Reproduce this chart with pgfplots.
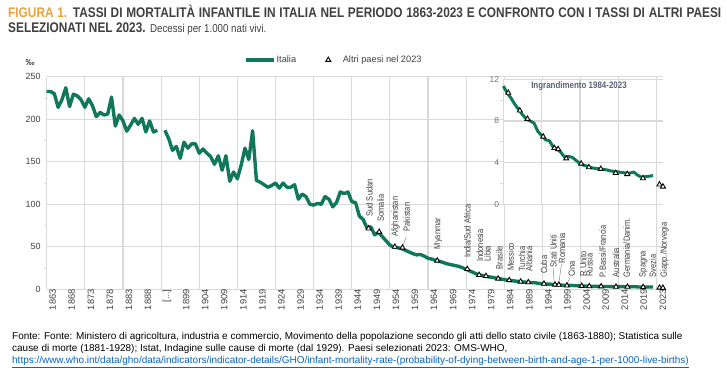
\documentclass[border=0pt]{standalone}
\usepackage{pgfplots}
\pgfplotsset{compat=1.18}
\usepackage{fontspec}
\setmainfont{Liberation Sans}
\newfontfamily\narrow[FakeStretch=0.84]{Liberation Sans}
\newfontfamily\titlefont[FakeStretch=0.85]{Liberation Sans}
\definecolor{itgreen}{HTML}{10785A}
\definecolor{gridc}{HTML}{D9D9D9}
\definecolor{txt}{HTML}{404040}
\definecolor{orangeT}{HTML}{E8A33C}
\definecolor{insetT}{HTML}{5B6475}
\definecolor{linkc}{HTML}{0563C1}
\definecolor{leader}{HTML}{8C8C8C}
\pgfplotsset{
  mytrilegend/.style={legend image code/.code={\path[draw=none,fill=none] (0bp,0bp) (22bp,0bp); \draw[mark repeat=2,mark phase=2,##1] plot coordinates {(0bp,0bp)(8.5bp,0bp)(22bp,0bp)};}},
  mylinelegend/.style={legend image code/.code={\draw[##1] (0bp,0bp) -- (28bp,0bp);}},
}
\begin{document}
\begin{tikzpicture}[x=1bp,y=1bp]
\path[use as bounding box] (0,0) rectangle (727,-372);
% ---- title
\node[anchor=base west, inner sep=0, text=txt, font=\titlefont\fontsize{14}{15}\selectfont\bfseries] at (8,-17.5)
 {\makebox[713bp][s]{\textcolor{orangeT}{FIGURA 1.} TASSI DI MORTALITÀ INFANTILE IN ITALIA NEL PERIODO 1863-2023 E CONFRONTO CON I TASSI DI ALTRI PAESI}};
\node[anchor=base west, inner sep=0, text=txt, font=\titlefont\fontsize{14}{15}\selectfont] at (8,-32.5)
 {\textbf{SELEZIONATI NEL 2023.} {\fontsize{11.5}{12}\selectfont Decessi per 1.000 nati vivi.}};
% ---- per mille
\node[text=txt, font=\fontsize{9}{10}\selectfont\bfseries, inner sep=0] at (30,-62) {‰};
% ---- main axis
\begin{axis}[
  at={(46.7bp,-289.3bp)}, anchor=south west, scale only axis,
  width=616.6bp, height=212.6bp,
  xmin=0, xmax=161.7, ymin=0, ymax=250,
  clip=false,
  axis x line*=bottom, axis y line*=left,
  axis line style={draw=gridc, line width=1.2bp},
  xtick={0,5,...,155,160},
  xticklabels={1863,1868,1873,1878,1883,1888,{[.\kern0pt.\kern0pt.]},1899,1904,1909,1914,1919,1924,1929,1934,1939,1944,1949,1954,1959,1964,1969,1974,1979,1984,1989,1994,1999,2004,2009,2014,2019,2023},
  x tick label style={rotate=90, anchor=east, font=\fontsize{9.3}{10}\selectfont, text=txt, inner sep=0pt, yshift=-6bp},
  extra x ticks={10,20,...,160}, extra x tick labels={},
  extra x tick style={xmajorgrids=true},
  ytick={0,50,...,250}, minor ytick={25,75,...,225},
  ymajorgrids,
  grid style={draw=gridc, line width=1.2bp},
  major tick length=0pt, minor tick length=3bp, tick align=outside,
  tick style={draw=gridc, line width=0.8bp},
  y tick label style={font=\fontsize{9}{10}\selectfont, text=txt, xshift=-6bp, inner sep=0pt},
  /pgf/number format/assume math mode=true,
  legend columns=2,
  legend style={draw=none, fill=none, at={(0.465,1.0786)}, anchor=center,
    font=\fontsize{9.3}{10}\selectfont, text=txt,
    nodes={inner xsep=1bp},
    /tikz/every odd column/.append style={column sep=0bp},
    /tikz/every even column/.append style={column sep=22.6bp}},
]
\addplot[itgreen, line width=3.4bp, line join=round, mylinelegend]
  coordinates {(0,232.6)(1,232.6)(2,230)(3,214)(4,223)(5,237)(6,215)(7,229.5)(8,227.5)(9,223)(10,214)(11,224)(12,216)(13,203)(14,208)(15,205)(16,206)(17,226)(18,192)(19,205)(20,198)(21,186)(22,193)(23,201)(24,194)(25,201)(26,185)(27,198)(28,185)(29,187)};
\addlegendentry{Italia}
\addplot[itgreen, line width=3.4bp, line join=round, forget plot]
  coordinates {(31,187)(32,177)(33,163.5)(34,168)(35,154)(36,173)(37,166)(38,171)(39,171)(40,160)(41,165)(42,160)(43,156)(44,147)(45,157)(46,140)(47,157)(48,127)(49,138)(50,130)(51,146)(52,166)(53,152.7)(54,186.5)(55,128)(56,126)(57,123)(58,120)(59,122)(60,125)(61,119)(62,125)(63,120)(64,120)(65,123)(66,106)(67,112)(68,109)(69,100)(70,99)(71,101)(72,100)(73,109)(74,106)(75,97)(76,102)(77,114.5)(78,112.5)(79,114.5)(80,103)(81,102)(82,86)(83,82)(84,72)(85,73.5)(86,64)(87,67)(88,62)(89,57)(90,52)(91,49.5)(92,49)(93,48)(94,46)(95,44)(96,42)(97,40.5)(98,41)(99,39)(100,36.5)(101,35.5)(102,34)(103,33)(104,31.5)(105,30)(106,29)(107,28)(108,27)(109,25.5)(110,23.5)(111,21.5)(112,19.5)(113,17.5)(114,16.5)(115,15.5)(116,14.6)(117,14)(118,13)(119,12.3)(120,11.35)(121,10.7)(122,10.2)(123,9.6)(124,9.1)(125,8.6)(126,8.2)(127,8.0)(128,7.8)(129,7.0)(130,6.6)(131,6.2)(132,6.1)(133,5.5)(134,5.3)(135,5.0)(136,4.5)(137,4.6)(138,4.5)(139,4.2)(140,3.9)(141,3.75)(142,3.65)(143,3.5)(144,3.45)(145,3.4)(146,3.35)(147,3.3)(148,3.2)(149,3.15)(150,3.1)(151,3.05)(152,3.0)(153,3.0)(154,3.1)(155,2.8)(156,2.6)(157,2.65)(158,2.7)(159,2.75)};
% leader lines
\draw[leader, line width=0.5bp] (axis cs:93.5,52) -- (axis cs:94.3,62);
\draw[leader, line width=0.5bp] (axis cs:133.1,7) -- (axis cs:132.8,25.5);
\draw[leader, line width=0.5bp] (axis cs:134.3,7) -- (axis cs:135.0,30);
\draw[leader, line width=0.5bp] (axis cs:136.5,7) -- (axis cs:137.3,14.5);
\addplot[only marks, mark=triangle*, mark size=2.9bp, mark options={fill=white, draw=black, line width=0.9bp}, mytrilegend]
  coordinates {(84.4,71.5)(87.2,67.5)(91.3,50)(93.3,49)(102.4,33.6)(110.3,23.8)(113.4,16.8)(115.2,15.6)(118.4,12.5)(121.3,10.7)(124.3,9.0)(126.3,8.2)(130.4,6.5)(133.3,5.4)(134.3,5.3)(136.4,4.4)(140.3,3.9)(142.3,3.55)(145.4,3.4)(149.3,3.0)(152.3,2.9)(156.4,2.5)(160.7,1.9)(161.6,1.7)};
\addlegendentry{Altri paesi nel 2023}
% country labels
\begin{scope}[every node/.style={rotate=90, anchor=west, inner sep=0pt, text=txt, font=\narrow\fontsize{9}{9}\selectfont}]
\node at (axis cs:84.6,85.4) {Sud Sudan};
\node at (axis cs:87.6,79.5) {Somalia};
\node at (axis cs:91.5,61.9) {Afghanistan};
\node at (axis cs:94.4,67.7) {Pakistan};
\node at (axis cs:102.7,47.0) {Myanmar};
\node at (axis cs:110.3,36.8) {India/Sud Africa};
\node at (axis cs:113.6,32.1) {Indonesia};
\node at (axis cs:115.6,32.1) {Libia};
\node at (axis cs:118.7,23.5) {Brasile};
\node at (axis cs:121.7,21.9) {Messico};
\node at (axis cs:124.6,20.7) {Turchia};
\node at (axis cs:126.5,20.7) {Albania};
\node at (axis cs:130.4,18.0) {Cuba};
\node at (axis cs:132.9,25.9) {Stati Uniti};
\node at (axis cs:135.1,30.6) {Romania};
\node at (axis cs:137.7,14.8) {Cina};
\node at (axis cs:140.7,14.8) {R.Unito};
\node at (axis cs:142.3,14.8) {Russia};
\node at (axis cs:145.8,14.1) {P.Bassi/Francia};
\node at (axis cs:149.3,14.1) {Australia};
\node at (axis cs:152.1,14.1) {Germania/Danim.};
\node at (axis cs:156.5,14.1) {Spagna};
\node at (axis cs:158.9,14.1) {Svezia};
\node at (axis cs:162.0,14.1) {Giapp./Norvegia};
\end{scope}
\end{axis}
% ---- inset
\begin{axis}[
  at={(503.3bp,-204.3bp)}, anchor=south west, scale only axis,
  width=160bp, height=125bp,
  xmin=120, xmax=161.7, ymin=0, ymax=12,
  clip=false,
  axis background/.style={fill=white},
  axis x line*=bottom, axis y line*=left,
  axis line style={draw=gridc, line width=1.2bp},
  xtick={130,140,150,160}, xticklabels={},
  ytick={0,4,8,12}, minor ytick={2,6,10},
  xmajorgrids, ymajorgrids,
  grid style={draw=gridc, line width=1.2bp},
  major tick length=0pt, minor tick length=3bp, tick align=outside,
  tick style={draw=gridc, line width=0.8bp},
  y tick label style={font=\fontsize{8.5}{10}\selectfont, text=black!55, xshift=-4bp, inner sep=0pt},
  /pgf/number format/assume math mode=true,
]
\addplot[itgreen, line width=3bp, line join=round]
  coordinates {(120,11.35)(121,10.7)(122,10.2)(123,9.6)(124,9.1)(125,8.6)(126,8.2)(127,8.0)(128,7.8)(129,7.0)(130,6.6)(131,6.2)(132,6.1)(133,5.5)(134,5.3)(135,5.0)(136,4.5)(137,4.6)(138,4.5)(139,4.2)(140,3.9)(141,3.75)(142,3.65)(143,3.5)(144,3.45)(145,3.4)(146,3.35)(147,3.3)(148,3.2)(149,3.15)(150,3.1)(151,3.05)(152,3.0)(153,3.0)(154,3.1)(155,2.8)(156,2.6)(157,2.65)(158,2.7)(159,2.75)};
\addplot[only marks, mark=triangle*, mark size=2.9bp, mark options={fill=white, draw=black, line width=0.9bp}]
  coordinates {(121.3,10.7)(124.3,9.0)(126.3,8.2)(130.4,6.5)(133.3,5.4)(134.3,5.3)(136.4,4.4)(140.3,3.9)(142.3,3.55)(145.4,3.4)(149.3,3.0)(152.3,2.9)(156.4,2.5)(160.7,1.9)(161.6,1.7)};
\node[font=\narrow\fontsize{9.5}{10}\selectfont\bfseries, text=insetT, inner sep=0pt] at (rel axis cs:0.473,0.946) {Ingrandimento 1984-2023};
\end{axis}
% ---- footer
\begin{scope}[every node/.style={anchor=base west, inner sep=0pt, text=black, font=\fontsize{10}{12}\selectfont}]
\node at (12,-339.5) {Fonte: Fonte: Ministero di agricoltura, industria e commercio, Movimento della popolazione secondo gli atti dello stato civile (1863-1880); Statistica sulle};
\node at (12,-351.5) {cause di morte (1881-1928); Istat, Indagine sulle cause di morte (dal 1929). Paesi selezionati 2023: OMS-WHO,};
\node[text=linkc] at (12,-363.5) {\underline{https://www.who.int/data/gho/data/indicators/indicator-details/GHO/infant-mortality-rate-(probability-of-dying-between-birth-and-age-1-per-1000-live-births)}};
\end{scope}
\end{tikzpicture}
\end{document}
